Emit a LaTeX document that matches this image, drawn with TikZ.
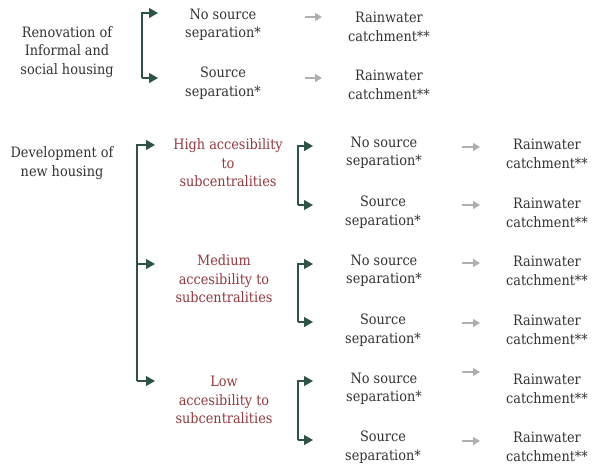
\documentclass[tikz,border=0pt]{standalone}
\usepackage{fontspec}
\setmainfont{DejaVu Serif Condensed}
\usetikzlibrary{arrows.meta,positioning}
\definecolor{branchgreen}{RGB}{47,84,70}
\definecolor{levelred}{RGB}{145,58,64}
\definecolor{textgray}{RGB}{50,50,50}
\definecolor{flowgray}{RGB}{175,175,175}
\begin{document}
\begin{tikzpicture}[x=1pt,y=-1pt,font=\fontsize{14.3}{18.5}\selectfont,
  every node/.style={align=center,text=textgray,inner sep=0pt},
  branch/.style={draw=branchgreen,line width=1.3pt,-{Triangle[length=9pt,width=10pt]}},
  flow/.style={draw=flowgray,line width=1.3pt,-{Triangle[length=7pt,width=8pt]}},
  level/.style={text=levelred}]
\useasboundingbox (0,0) rectangle (592,470);
% renovation
\node (reno) at (67,52) {Renovation of\\Informal and\\social housing};
\node (rno) at (223,25) {No source\\separation*};
\node (rsrc) at (223,83) {Source\\separation*};
\node (rrwa) at (389,27) {Rainwater\\catchment**};
\node (rrwb) at (389,85) {Rainwater\\catchment**};
\coordinate (rina) at (158,13);
\coordinate (rinb) at (158,78);
\draw[branch] (rinb) ++(-16,0) |- (rina);
\draw[branch] (rinb) ++(-16,0) -- (rinb);
% new housing
\node (dev) at (62,163) {Development of\\new housing};
\node[level] (high) at (228,163) {High accesibility\\to\\subcentralities};
\node[level] (med) at (224,279) {Medium\\accesibility to\\subcentralities};
\node[level] (low) at (224,400) {Low\\accesibility to\\subcentralities};
\coordinate (hin) at (155,145);
\coordinate (min) at (155,264);
\coordinate (lin) at (155,381);
\draw[branch] (lin) ++(-18,0) |- (hin);
\draw[branch] (lin) ++(-18,0) |- (min);
\draw[branch] (lin) ++(-18,0) -- (lin);
% separation options
\foreach \n/\y in {hno/153,mno/271,lno/389}
  \node (\n) at (384,\y) {No source\\separation*};
\foreach \n/\y in {hsrc/212,msrc/330,lsrc/447}
  \node (\n) at (383,\y) {Source\\separation*};
\foreach \n/\y in {hrwa/154,hrwb/213,mrwa/271,mrwb/330,lrwa/389,lrwb/447}
  \node (\n) at (547,\y) {Rainwater\\catchment**};
\foreach \a/\b/\ya/\yb in {ha/hb/146/205,ma/mb/264/322,la/lb/381/440}{
  \coordinate (\a) at (313,\ya);
  \coordinate (\b) at (313,\yb);
  \draw[branch] (\b) ++(-15,0) |- (\a);
  \draw[branch] (\b) ++(-15,0) -- (\b);
}
% rainwater arrows
\foreach \n/\dy in {rrwa/-10,rrwb/-7}
  \draw[flow] ([shift={(-84,\dy)}]\n.center) -- ([shift={(-67,\dy)}]\n.center);
\foreach \n/\dy in {hrwa/-7,hrwb/-8,mrwa/-8,mrwb/-7,lrwa/-17,lrwb/-6}
  \draw[flow] ([shift={(-85,\dy)}]\n.center) -- ([shift={(-67,\dy)}]\n.center);
\end{tikzpicture}
\end{document}
